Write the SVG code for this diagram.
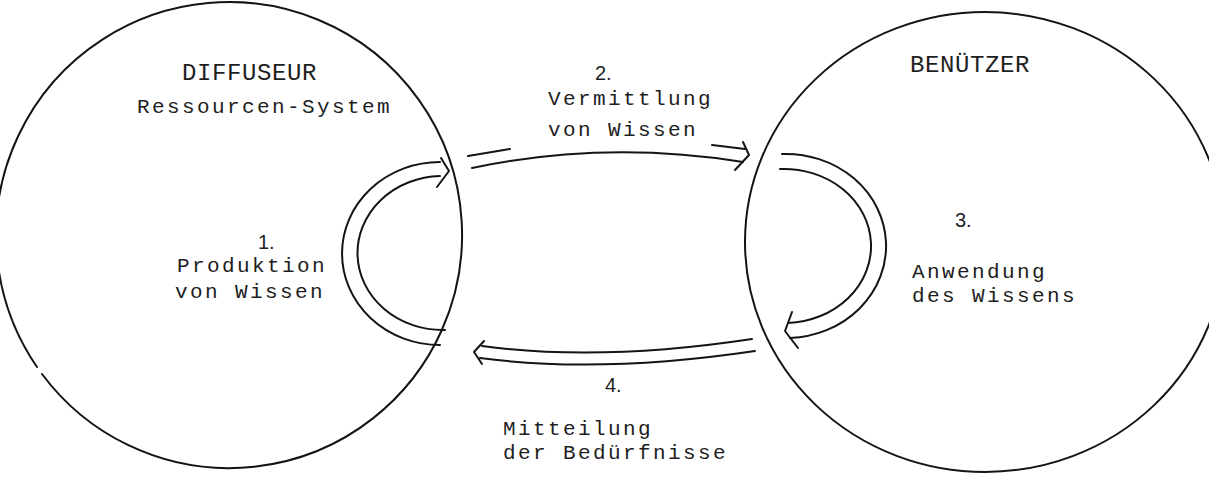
<svg xmlns="http://www.w3.org/2000/svg" width="1209" height="489" viewBox="0 0 1209 489">
  <style>
    .ln { fill: none; stroke: #141414; stroke-width: 2; stroke-linecap: round; stroke-linejoin: round; }
    .tw { font-family: "Liberation Mono", "DejaVu Sans Mono", monospace; font-size: 21px; letter-spacing: 2.4px; fill: #1e1e1e; }
    .title { font-family: "Liberation Mono", "DejaVu Sans Mono", monospace; font-size: 24px; letter-spacing: 0.6px; fill: #1e1e1e; }
    .num { font-family: "Liberation Sans", Arial, sans-serif; font-size: 20px; fill: #1e1e1e; }
  </style>
  <rect width="1209" height="489" fill="#ffffff"/>

  <g id="diffuseur">
    <path class="ln" d="M42,374 A233,233 0 1 0 37,367"/>
    <text class="title" x="182" y="80">DIFFUSEUR</text>
    <text class="tw" x="137" y="113">Ressourcen-System</text>
  </g>

  <g id="benutzer">
    <ellipse class="ln" cx="985" cy="242" rx="240" ry="230"/>
    <text class="title" x="910" y="72">BENÜTZER</text>
  </g>

  <g id="label-1">
    <text class="num" x="258" y="249">1.</text>
    <text class="tw" x="177" y="272">Produktion</text>
    <text class="tw" x="175" y="298">von Wissen</text>
  </g>

  <g id="label-2">
    <text class="num" x="595" y="80">2.</text>
    <text class="tw" x="548" y="105">Vermittlung</text>
    <text class="tw" x="548" y="136">von Wissen</text>
  </g>

  <g id="label-3">
    <text class="num" x="955" y="227">3.</text>
    <text class="tw" x="912" y="278">Anwendung</text>
    <text class="tw" x="912" y="302">des Wissens</text>
  </g>

  <g id="label-4">
    <text class="num" x="605" y="392">4.</text>
    <text class="tw" x="503" y="435">Mitteilung</text>
    <text class="tw" x="503" y="459">der Bedürfnisse</text>
  </g>

  <g id="connectors">
    <!-- 1. Produktion loop -->
    <path class="ln" d="M440,162 A98,91.5 0 0 0 440,345"/>
    <path class="ln" d="M440,176 A85,77 0 0 0 445,330"/>
    <polyline class="ln" points="441,158 449,171 437,187"/>

    <!-- 2. Vermittlung -->
    <path class="ln" d="M468,156 L510,149"/>
    <path class="ln" d="M472,168 Q605,140 743,162"/>
    <path class="ln" d="M712,145 L745,149"/>
    <polyline class="ln" points="743,142 749,155 735,170"/>

    <!-- 3. Anwendung loop -->
    <path class="ln" d="M782,154 A100,92 0 0 1 790,338"/>
    <path class="ln" d="M780,169 A87,77 0 0 1 788,323"/>
    <polyline class="ln" points="792,312 785,331 798,348"/>

    <!-- 4. Mitteilung -->
    <path class="ln" d="M482,346 Q600,362 752,339"/>
    <path class="ln" d="M480,358 Q600,374 755,351"/>
    <polyline class="ln" points="484,341 474,352 482,364"/>
  </g>
</svg>
